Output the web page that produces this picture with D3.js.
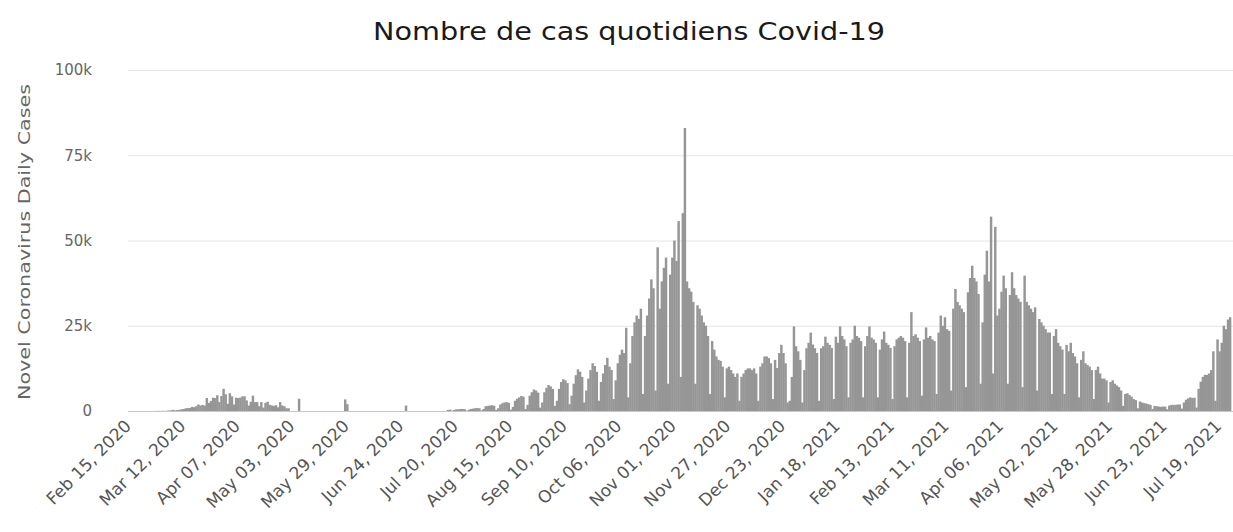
<!doctype html>
<html>
<head>
<meta charset="utf-8">
<script src="https://cdn.jsdelivr.net/npm/d3@7"></script>
<style>
    body { margin:0; background:#fff; }
    svg { display:block; }
    .title { font-family:"DejaVu Sans", sans-serif; font-size:24px; fill:#1a1a1a; }
    .ytitle { font-family:"DejaVu Sans", sans-serif; font-size:16px; fill:#666; }
    .yaxis text { font-family:"DejaVu Sans", sans-serif; font-size:15px; fill:#666; }
    .xaxis text { font-family:"DejaVu Sans", sans-serif; font-size:17px; fill:#555; }
    .bar { fill:#969696; }
</style>
</head>
<body>
<script>
// daily new cases (thousands), one array per month, starting Feb 15 2020
var feb2020 = [0,0,0,0,0,0,0,0,0,0,0.002,0.004,0.02,0.019,0.043];
var mar2020 = [0.03,0.06,0.02,0.07,0.14,0.19,
    0.34,0.18,0.29,0.37,0.5,0.6,0.79,
    0.84,0.92,1.2,1.1,1.4,1.9,1.6,
    1.8,1.6,3.8,2.4,2.9,3.9,3.8,
    4.6,2.6,4.4,6.5];
var apr2020 = [4.9,2.1,5.2,
    4.3,1.9,3.9,3.8,3.9,4.3,4.3,
    3.1,1.6,2.7,4.5,2.6,2.6,1.4,
    2.6,1.0,2.4,2.7,1.8,1.6,1.5,
    1.7,1.1,2.6,1.6,1.4,0.8];
var may2020 = [0.8,0,0,0,0,3.6,
    0,0,0,0,0,0,0, 0,0,0,0,0,0,0, 0,0,0,0,0,0,0,
    3.4,2.0,0,0];
var jun2020 = [0,0,0,0,0,0,0,0,0,0, 0,0,0,0,0,0,0,0,0,0, 0,0,0,0,0,1.6,0,0,0,0];
var jul2020 = [0,0,0,0,0,0,0,0,0,0,0,0,0,
    0,0,0.3,0.4,0.1,0.3,0.5,0.5,0.6,0.6,0.5,0.1,0.4,0.6,0.7,0.8,0.9,0.8];
var aug2020 = [0.2,0.6,1.4,1.5,1.6,1.7,1.5,
    0.3,0.8,1.9,2.3,2.5,2.6,2.4,
    0.4,1.2,3.0,3.6,4.0,4.4,4.2,
    0.6,1.8,4.5,5.5,6.3,6.0,5.4,
    1.0,2.5,5.5];
var sep2020 = [6.8,7.6,7.2,6.5,
    1.5,3.0,6.5,8.5,9.3,9.0,8.2,
    2.0,4.5,8.0,10.5,12.2,11.5,10.0,
    2.5,6.0,9.5,12.0,14.0,13.2,11.5,
    3.0,8.5,11.0,13.5,15.6];
var oct2020 = [13.0,12.0,3.5,9.0,14.0,16.5,18.0,17.0,24.4,
    4.0,14.0,22.0,26.0,28.0,27.0,30.0,
    5.0,22.0,28.0,33.0,38.6,36.0,
    6.0,48.0,30.0,38.0,42.0,45.0,
    8.0,40.0,45.0];
var nov2020 = [50.0,44.0,55.7,10.0,58.0,83.0,
    38.0,36.0,35.0,32.0,8.0,
    31.0,30.0,28.0,26.0,25.0,22.0,5.0,
    20.5,18.0,16.0,15.0,14.7,13.0,4.0,
    12.5,13.0,12.0,11.0,10.0];
var dec2020 = [11.0,3.0,10.0,11.0,12.0,12.5,12.5,12.0,12.5,11.0,
    3.0,13.0,14.0,16.0,16.0,15.5,14.0,
    3.5,15.0,12.6,17.0,19.4,17.0,14.0,
    2.5,3.0,10.0,24.8,19.0,17.5,15.0];
var jan2021 = [2.5,12.0,18.4,20.0,23.0,19.5,18.4,17.0,
    3.0,18.4,19.0,21.8,20.0,19.4,18.5,
    3.5,21.8,20.0,24.8,22.0,21.0,19.0,
    4.0,20.0,21.0,25.0,22.0,21.5,20.5,
    4.0,19.0];
var feb2021 = [22.0,24.8,21.5,21.0,20.0,
    4.0,18.0,21.0,23.3,20.0,19.4,18.5,
    3.5,19.0,21.0,21.5,22.0,21.5,20.5,
    4.0,20.0,29.0,22.0,22.5,21.5,20.5,
    4.5,21.0];
var mar2021 = [24.5,21.5,22.0,21.0,20.5,
    5.0,23.0,28.0,25.0,27.5,24.0,23.5,
    6.0,30.0,35.8,32.0,31.0,30.0,29.0,
    7.0,34.8,39.0,42.6,39.0,38.0,34.3,
    8.0,26.0,40.0,47.0,38.0];
var apr2021 = [57.0,11.0,54.0,28.0,30.0,35.0,39.7,36.0,
    8.0,34.0,40.7,36.0,34.0,33.0,32.0,
    7.0,39.7,32.0,31.0,30.0,29.0,30.4,
    6.0,27.0,26.0,25.0,24.0,23.0,23.0,
    5.0];
var may2021 = [22.0,24.0,20.0,19.0,18.0,
    5.0,19.4,17.5,20.0,17.0,16.0,14.0,
    4.0,15.0,17.5,14.0,13.5,13.0,12.0,
    3.5,12.0,13.0,11.0,9.5,9.5,9.0,
    2.5,8.5,9.0,8.0,7.5];
var jun2021 = [7.0,6.0,
    1.5,5.0,5.2,4.7,4.2,3.5,3.2,
    0.8,2.8,2.5,2.3,2.2,2.0,1.8,
    0.6,1.5,1.4,1.3,1.2,1.3,1.3,
    0.5,1.6,1.8,1.8,1.8,1.9,1.9];
var jul2021 = [0.7,2.5,3.3,3.7,4.0,3.8,3.9,
    1.0,6.5,8.6,10.0,10.6,10.6,11.0,
    12.0,17.5,3.0,21.0,17.5,20.0,25.0,
    24.0,26.8,27.5];

var tickLabels = ["Feb 15, 2020","Mar 12, 2020","Apr 07, 2020","May 03, 2020","May 29, 2020",
    "Jun 24, 2020","Jul 20, 2020","Aug 15, 2020","Sep 10, 2020","Oct 06, 2020","Nov 01, 2020",
    "Nov 27, 2020","Dec 23, 2020","Jan 18, 2021","Feb 13, 2021","Mar 11, 2021","Apr 06, 2021",
    "May 02, 2021","May 28, 2021","Jun 23, 2021","Jul 19, 2021"];
var yTicks = [0, 25, 50, 75, 100];
var tickEvery = 26;
var startDate = new Date(2020, 1, 15);

var cases = [].concat(feb2020, mar2020, apr2020, may2020, jun2020, jul2020, aug2020, sep2020,
    oct2020, nov2020, dec2020, jan2021, feb2021, mar2021, apr2021, may2021, jun2021, jul2021);
var days = cases.map(function(v, i) { return d3.timeDay.offset(startDate, i); });

var W = 1233, H = 532;
var plotLeft = 128, plotRight = 1231, plotTop = 70, plotBottom = 411;

var svg = d3.select("body").append("svg").attr("width", W).attr("height", H);

var x = d3.scaleBand().domain(days).range([plotLeft, plotRight]).paddingInner(0);
var y = d3.scaleLinear().domain([0, 100]).range([plotBottom, plotTop]);

// grid + y labels
var yAxis = svg.append("g").attr("class", "yaxis")
    .attr("transform", "translate(" + plotLeft + ",0)")
    .call(d3.axisLeft(y).tickValues(yTicks).tickSize(-(W - plotLeft)).tickPadding(36)
        .tickFormat(function(d) { return d === 0 ? "0" : d + "k"; }));
yAxis.select(".domain").remove();
yAxis.selectAll("line").attr("stroke", "#e6e6e6");
yAxis.selectAll(".tick").filter(function(d) { return d === 0; }).select("line").attr("stroke", "#c8c8c8");

// bars (slight overlap so neighbouring days read as one mass)
svg.append("g").selectAll("rect")
    .data(cases)
    .enter().append("rect")
    .attr("class", "bar")
    .attr("x", function(d, i) { return x(days[i]); })
    .attr("width", x.bandwidth() + 0.35)
    .attr("y", function(d) { return y(d); })
    .attr("height", function(d) { return plotBottom - y(d); });

// x labels
var tickDays = tickLabels.map(function(t, i) { return days[i * tickEvery]; });
var xAxis = svg.append("g").attr("class", "xaxis")
    .attr("transform", "translate(0," + plotBottom + ")")
    .call(d3.axisBottom(x).tickValues(tickDays).tickSize(0)
        .tickFormat(function(d, i) { return tickLabels[i]; }));
xAxis.select(".domain").remove();
xAxis.selectAll("text")
    .attr("text-anchor", "end")
    .attr("dy", null)
    .attr("y", 0)
    .attr("transform", "translate(3,16) rotate(-45)");

// titles
svg.append("text").attr("class", "title")
    .attr("x", 629).attr("y", 40).attr("text-anchor", "middle")
    .attr("textLength", 512).attr("lengthAdjust", "spacingAndGlyphs")
    .text("Nombre de cas quotidiens Covid-19");

svg.append("text").attr("class", "ytitle")
    .attr("transform", "translate(30,242) rotate(-90)")
    .attr("text-anchor", "middle")
    .attr("textLength", 316).attr("lengthAdjust", "spacingAndGlyphs")
    .text("Novel Coronavirus Daily Cases");
</script>
</body>
</html>
